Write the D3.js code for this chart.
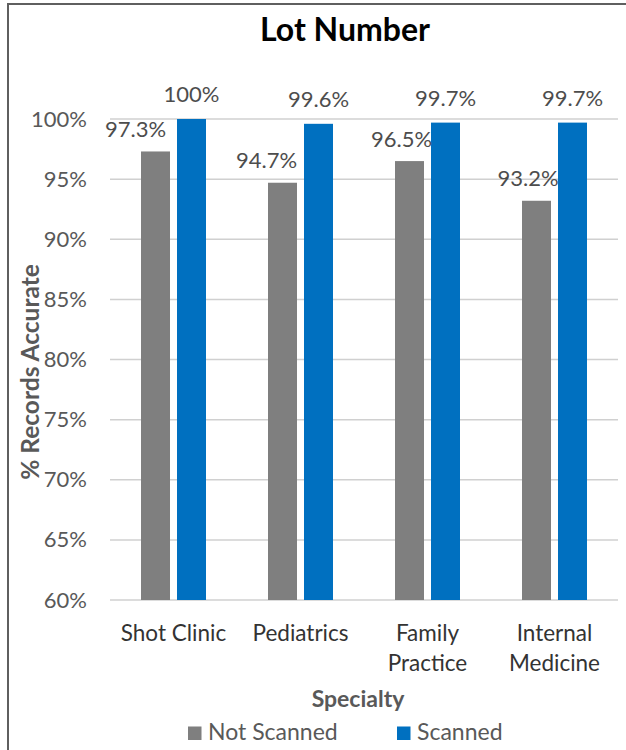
<!DOCTYPE html>
<html><head><meta charset="utf-8">
<script src="https://cdn.jsdelivr.net/npm/d3@7/dist/d3.min.js"></script>
<style>body{margin:0;background:#fff}svg{display:block}text{font-family:Lato,"Open Sans",sans-serif}</style>
</head><body>
<script>
const categories = [["Shot Clinic"],["Pediatrics"],["Family","Practice"],["Internal","Medicine"]];
const seriesNames = ["Not Scanned","Scanned"];
const notScanned = [97.3, 94.7, 96.5, 93.2];
const scanned = [100, 99.6, 99.7, 99.7];
const valueLabels = [["97.3%","94.7%","96.5%","93.2%"],["100%","99.6%","99.7%","99.7%"]];
const yTicks = [60,65,70,75,80,85,90,95,100];
const colors = ["#7f7f7f","#0070c0"];

// layout: horizontal nudges of the gray value labels (as placed in the original)
const grayLabelDx = [-20,-16,-8,-8.5];

const W=626,H=750;
const svg=d3.select("body").append("svg").attr("width",W).attr("height",H);
svg.append("rect").attr("x",8).attr("y",4).attr("width",W+10).attr("height",H+10)
  .attr("fill","#fff").attr("stroke","#5f5f5f").attr("stroke-width",2);

const keys=categories.map(c=>c.join(" "));
const x0=d3.scaleBand().domain(keys).range([110,618]).paddingInner(62/127).paddingOuter(31/127);
const x1=d3.scaleBand().domain([0,1]).range([0,x0.bandwidth()]).paddingInner(7/36).paddingOuter(0);
const y=d3.scaleLinear().domain([60,100]).range([600,119]);

// gridlines
svg.append("g").selectAll("line").data(yTicks).join("line")
  .attr("x1",110).attr("x2",618).attr("y1",d=>y(d)).attr("y2",d=>y(d))
  .attr("stroke","#d0d0d0").attr("stroke-width",1.5);

// y tick labels
const yAxis=d3.axisLeft(y).tickValues(yTicks).tickFormat(d=>d+"%").tickSize(0).tickPadding(0);
const ga=svg.append("g").attr("transform","translate(87,0)").call(yAxis);
ga.select(".domain").remove();
ga.selectAll("text").attr("font-size",22).attr("fill","#595959").attr("font-family","Lato,sans-serif");

const series=[notScanned,scanned];
series.forEach((vals,si)=>{
  svg.append("g").selectAll("rect").data(vals).join("rect")
    .attr("x",(d,i)=>x0(keys[i])+x1(si)).attr("width",x1.bandwidth())
    .attr("y",d=>y(d)).attr("height",d=>y(60)-y(d)).attr("fill",colors[si]);
});

// value labels
series.forEach((vals,si)=>{
  svg.append("g").selectAll("text").data(vals).join("text")
    .attr("x",(d,i)=>x0(keys[i])+x1(si)+x1.bandwidth()/2+(si===0?grayLabelDx[i]:0))
    .attr("y",d=>y(d)-(si===0?14.5:17)).attr("text-anchor","middle")
    .attr("font-size",22).attr("fill","#4d4d4d")
    .text((d,i)=>valueLabels[si][i]);
});

// category labels
categories.forEach((lines,i)=>{
  const cx=x0(keys[i])+x0.bandwidth()/2;
  const t=svg.append("text").attr("x",cx).attr("y",641)
    .attr("text-anchor","middle").attr("font-size",22.5).attr("fill","#333");
  lines.forEach((l,j)=>t.append("tspan").attr("x",cx).attr("dy",j?30:0).text(l));
});

// title
svg.append("text").attr("x",345).attr("y",41).attr("text-anchor","middle")
  .attr("font-size",32).attr("font-weight","bold").attr("fill","#000").text("Lot Number");
// axis titles
svg.append("text").attr("x",358).attr("y",706.5).attr("text-anchor","middle")
  .attr("font-size",23).attr("font-weight","bold").attr("fill","#595959").text("Specialty");
svg.append("text").attr("transform","translate(39,372) rotate(-90)").attr("text-anchor","middle")
  .attr("font-size",24.5).attr("font-weight","bold").attr("fill","#595959").text("% Records Accurate");

// legend
const legX=[188,397];
seriesNames.forEach((n,i)=>{
  svg.append("rect").attr("x",legX[i]).attr("y",726.5).attr("width",13.5).attr("height",13.5).attr("fill",colors[i]);
  svg.append("text").attr("x",legX[i]+20).attr("y",739.5).attr("font-size",23).attr("fill","#595959").text(n);
});
</script>
</body></html>
